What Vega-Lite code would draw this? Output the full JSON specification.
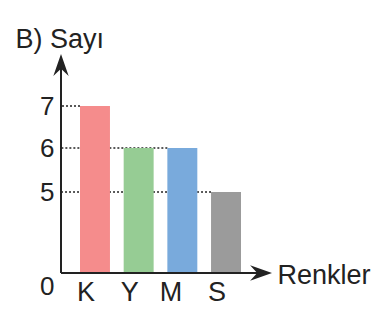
{
  "$schema": "https://vega.github.io/schema/vega-lite/v6.json",
  "autosize": "none",
  "width": 211,
  "height": 219,
  "padding": {"left": 61, "top": 54, "right": 112, "bottom": 56},
  "background": "white",
  "config": {
    "view": {"stroke": null},
    "font": "Liberation Sans",
    "text": {"font": "Liberation Sans"}
  },
  "layer": [
    {
      "data": {"values": [{"v": 7, "upto": "K"}, {"v": 6, "upto": "M"}, {"v": 5, "upto": "S"}]},
      "mark": {"type": "rule", "strokeDash": [2, 2], "strokeWidth": 1.5, "color": "#222"},
      "encoding": {
        "x": {"field": "upto", "type": "nominal", "bandPosition": 0, "sort": ["K", "Y", "M", "S"],
          "scale": {"domain": ["K", "Y", "M", "S"], "range": [0, 199], "paddingInner": 0.314, "paddingOuter": 0.435}},
        "x2": {"value": 0},
        "y": {"field": "v", "type": "quantitative"}
      }
    },
    {
      "data": {"values": [
        {"renk": "K", "sayi": 7},
        {"renk": "Y", "sayi": 6},
        {"renk": "M", "sayi": 6},
        {"renk": "S", "sayi": 5}
      ]},
      "mark": {"type": "bar"},
      "encoding": {
        "x": {"field": "renk", "type": "nominal", "sort": ["K", "Y", "M", "S"],
          "scale": {"domain": ["K", "Y", "M", "S"], "range": [0, 199], "paddingInner": 0.314, "paddingOuter": 0.435},
          "axis": {"title": "Renkler", "titleX": 216, "titleY": 10, "titleAlign": "left", "titleBaseline": "alphabetic",
            "titleFontSize": 27, "titleFontWeight": "normal", "titleColor": "#222", "titleFont": "Liberation Sans",
            "labelFontSize": 27, "labelColor": "#222", "labelPadding": 19, "labelAngle": 0, "labelFont": "Liberation Sans",
            "domain": false, "ticks": false, "grid": false}},
        "y": {"field": "sayi", "type": "quantitative",
          "scale": {"domain": [0, 5, 6, 7, 8.24], "range": [219, 138, 94, 52, 0], "nice": false, "zero": false},
          "axis": {"title": "B) Sayı", "titleAngle": 0, "titleX": -46, "titleY": -7, "titleAlign": "left", "titleBaseline": "alphabetic",
            "titleFontSize": 27, "titleFontWeight": "normal", "titleColor": "#222", "titleFont": "Liberation Sans",
            "values": [0, 5, 6, 7], "labelFontSize": 26, "labelColor": "#222", "labelPadding": 7, "labelFont": "Liberation Sans",
            "labelBaseline": {"expr": "datum.value == 0 ? 'top' : 'middle'"},
            "domain": false, "ticks": false, "grid": false}},
        "color": {"field": "renk", "type": "nominal", "legend": null,
          "scale": {"domain": ["K", "Y", "M", "S"], "range": ["#F58C8C", "#96CC94", "#79AADC", "#9B9B9B"]}}
      }
    },
    {
      "data": {"values": [{}]},
      "mark": {"type": "rule", "color": "#222", "strokeWidth": 2},
      "encoding": {"x": {"value": 0}, "x2": {"value": 200}, "y": {"datum": 0}}
    },
    {
      "data": {"values": [{}]},
      "mark": {"type": "rule", "color": "#222", "strokeWidth": 2},
      "encoding": {"x": {"value": 0}, "y": {"datum": 0}, "y2": {"value": 10}}
    },
    {
      "data": {"values": [{}]},
      "mark": {"type": "point", "shape": "M0,0 L0.7,2 L0,1.35 L-0.7,2 Z", "size": 480, "filled": true, "color": "#222", "opacity": 1, "strokeWidth": 0},
      "encoding": {"x": {"value": 0}, "y": {"value": 0}}
    },
    {
      "data": {"values": [{}]},
      "mark": {"type": "point", "shape": "M0,0 L-2,0.7 L-1.35,0 L-2,-0.7 Z", "size": 480, "filled": true, "color": "#222", "opacity": 1, "strokeWidth": 0},
      "encoding": {"x": {"value": "width"}, "y": {"datum": 0}}
    }
  ]
}
